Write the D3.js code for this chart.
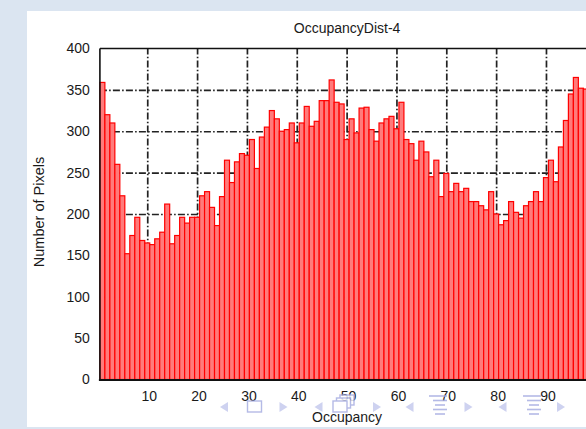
<!DOCTYPE html>
<html>
<head>
<meta charset="utf-8">
<script src="https://cdn.jsdelivr.net/npm/d3@7"></script>
<style>
  html, body { margin: 0; padding: 0; background: #dbe5f1; overflow: hidden; }
  svg { display: block; }
  text { font-family: "Liberation Sans", Arial, Helvetica, sans-serif; fill: #1a1a1a; }
</style>
</head>
<body>
<svg id="chart" width="586" height="429"></svg>
<script>
// Histogram of pixel counts per occupancy value
const chartTitle = "OccupancyDist-4";
const xLabel = "Occupancy";
const yLabel = "Number of Pixels";

const pixelCounts = [
  359, 320, 310, 260, 222, 152, 174, 196, 168, 165,
  163, 170, 178, 212, 164, 174, 196, 189, 196, 196,
  222, 227, 208, 186, 221, 265, 238, 263, 273, 271,
  290, 255, 293, 305, 325, 315, 300, 302, 310, 286,
  310, 330, 306, 312, 337, 337, 362, 335, 333, 290,
  315, 298, 328, 329, 302, 288, 310, 315, 318, 303,
  335, 290, 285, 265, 288, 275, 245, 265, 221, 249,
  227, 237, 227, 231, 215, 215, 210, 205, 227, 200,
  187, 192, 215, 202, 195, 210, 215, 227, 215, 244,
  265, 239, 281, 313, 345, 365, 352, 351
];
const occupancyBins = pixelCounts.map((_, i) => i + 1);

const xTicks = [10, 20, 30, 40, 50, 60, 70, 80, 90];
const yTicks = [0, 50, 100, 150, 200, 250, 300, 350, 400];

const svg = d3.select("#chart");

// slide panel
svg.append("rect")
  .attr("x", 27).attr("y", 11)
  .attr("width", 620).attr("height", 416)
  .attr("fill", "#ffffff");

const plot = { left: 99.9, right: 598.3, top: 48.5, bottom: 379.5 };

const x = d3.scaleLinear().domain([0.5, 100.5]).range([plot.left, plot.right]);
const y = d3.scaleLinear().domain([0, 400]).range([plot.bottom, plot.top]);

const gridStyle = g => g.selectAll("line")
  .attr("stroke", "#222")
  .attr("stroke-width", 1.7)
  .attr("stroke-dasharray", "7,2.2,1.6,2.2");

// horizontal dash-dot grid
svg.append("g")
  .attr("transform", `translate(${plot.left},0)`)
  .call(d3.axisLeft(y).tickValues(yTicks.filter(v => v > 0 && v < 400))
    .tickSize(-(plot.right - plot.left)).tickFormat(""))
  .call(g => g.select(".domain").remove())
  .call(gridStyle);

// vertical dash-dot grid
svg.append("g")
  .attr("transform", `translate(0,${plot.bottom})`)
  .call(d3.axisBottom(x).tickValues(xTicks)
    .tickSize(-(plot.bottom - plot.top)).tickFormat(""))
  .call(g => g.select(".domain").remove())
  .call(gridStyle);

// bars
svg.append("g")
  .selectAll("rect")
  .data(occupancyBins)
  .join("rect")
  .attr("x", d => x(d - 0.5))
  .attr("width", d => x(d + 0.5) - x(d - 0.5))
  .attr("y", (d, i) => y(pixelCounts[i]))
  .attr("height", (d, i) => y(0) - y(pixelCounts[i]))
  .attr("fill", "#ff7b7b")
  .attr("stroke", "#ff0000")
  .attr("stroke-width", 1.2);

// frame
const frame = svg.append("g").attr("stroke", "#111").attr("fill", "none");
frame.append("line").attr("x1", plot.left).attr("x2", plot.right)
  .attr("y1", plot.top).attr("y2", plot.top).attr("stroke-width", 1.6);
frame.append("line").attr("x1", plot.left).attr("x2", plot.left)
  .attr("y1", plot.top).attr("y2", plot.bottom).attr("stroke-width", 1.6);
frame.append("line").attr("x1", plot.right).attr("x2", plot.right)
  .attr("y1", plot.top).attr("y2", plot.bottom).attr("stroke-width", 1.6);
frame.append("line").attr("x1", plot.left - 1).attr("x2", plot.right)
  .attr("y1", plot.bottom + 0.5).attr("y2", plot.bottom + 0.5).attr("stroke-width", 2);

// y tick labels
svg.append("g")
  .attr("transform", `translate(${plot.left},0)`)
  .call(d3.axisLeft(y).tickValues(yTicks).tickSize(0).tickPadding(10))
  .call(g => g.select(".domain").remove())
  .call(g => g.selectAll("text")
    .attr("font-family", null)
    .style("font-size", "14px")
    .attr("fill", "#1a1a1a"));

// x tick labels
svg.append("g")
  .attr("transform", `translate(0,${plot.bottom})`)
  .call(d3.axisBottom(x).tickValues(xTicks).tickSize(0).tickPadding(12))
  .call(g => g.select(".domain").remove())
  .call(g => g.selectAll("text")
    .attr("font-family", null)
    .attr("dx", 1.5)
    .style("font-size", "14px")
    .attr("fill", "#1a1a1a"));

// titles
const midX = (plot.left + plot.right) / 2 - 2;
svg.append("text")
  .attr("x", midX).attr("y", 32.5)
  .attr("text-anchor", "middle")
  .style("font-size", "14px")
  .text(chartTitle);

svg.append("text")
  .attr("x", midX).attr("y", 422)
  .attr("text-anchor", "middle")
  .style("font-size", "14px")
  .text(xLabel);

svg.append("text")
  .attr("transform", `translate(43.5,${(plot.top + plot.bottom) / 2 - 2}) rotate(-90)`)
  .attr("text-anchor", "middle")
  .style("font-size", "14.5px")
  .text(yLabel);

// slide navigation icons along the bottom edge
const nav = svg.append("g").attr("opacity", 0.85);
const navFill = "#c6cbee";
const navLine = "#a8aee2";
const leftArrow = cx => nav.append("path")
  .attr("d", `M${cx + 4},402 L${cx - 4},407 L${cx + 4},412 Z`).attr("fill", navFill);
const rightArrow = cx => nav.append("path")
  .attr("d", `M${cx - 4},402 L${cx + 4},407 L${cx - 4},412 Z`).attr("fill", navFill);

leftArrow(224);
nav.append("rect").attr("x", 247.5).attr("y", 401).attr("width", 14).attr("height", 11)
  .attr("fill", "none").attr("stroke", navLine).attr("stroke-width", 1.4);
rightArrow(283.5);

leftArrow(318.5);
nav.append("rect").attr("x", 340).attr("y", 395).attr("width", 14).attr("height", 10)
  .attr("fill", "#fff").attr("stroke", navLine).attr("stroke-width", 1.4);
nav.append("rect").attr("x", 336.5).attr("y", 398).attr("width", 14).attr("height", 10)
  .attr("fill", "#fff").attr("stroke", navLine).attr("stroke-width", 1.4);
nav.append("rect").attr("x", 333).attr("y", 401).attr("width", 14).attr("height", 11)
  .attr("fill", "#fff").attr("stroke", navLine).attr("stroke-width", 1.4);
rightArrow(377);

const listIcon = x0 => {
  const rows = [[0, 18, 396], [4, 14, 400.5], [6, 10, 405], [4, 14, 409.5], [6, 10, 414]];
  rows.forEach(([dx, w, yy]) => nav.append("line")
    .attr("x1", x0 + dx).attr("x2", x0 + dx + w)
    .attr("y1", yy).attr("y2", yy)
    .attr("stroke", navLine).attr("stroke-width", 1.6));
};
leftArrow(409.5);
listIcon(429);
rightArrow(468.5);

leftArrow(502.5);
listIcon(523);
rightArrow(561);
</script>
</body>
</html>
